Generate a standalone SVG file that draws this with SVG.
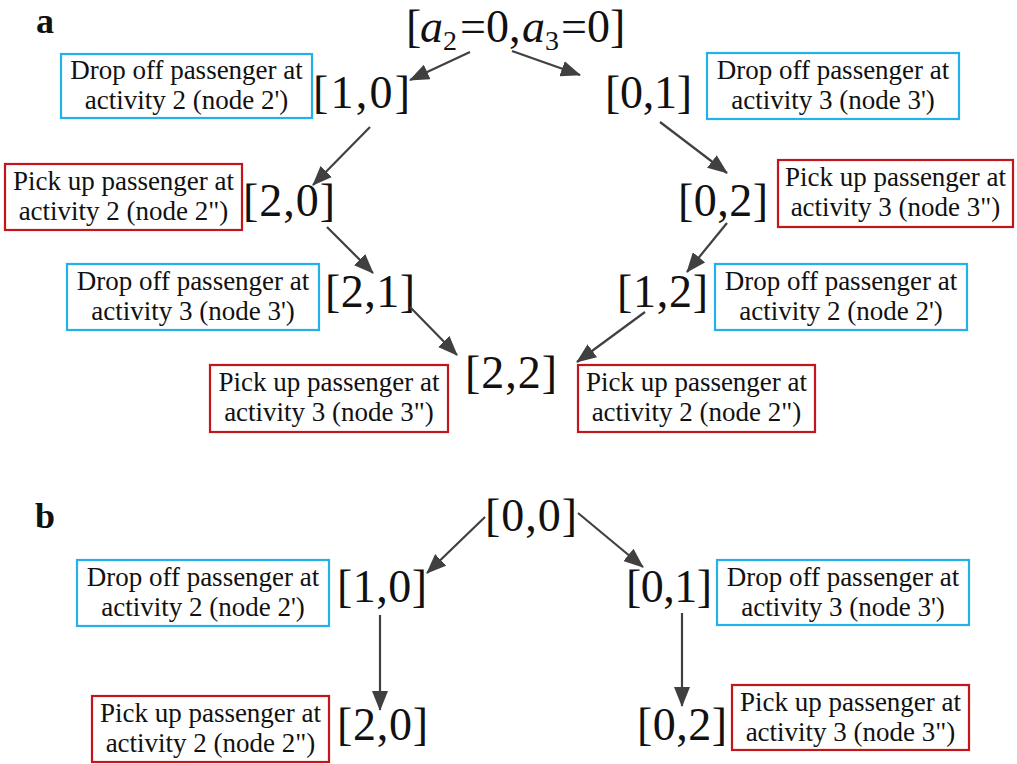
<svg xmlns="http://www.w3.org/2000/svg" width="1017" height="764" viewBox="0 0 1017 764">
<defs>
<marker id="ah" markerUnits="userSpaceOnUse" markerWidth="20" markerHeight="16" viewBox="0 0 20 16" refX="19" refY="8" orient="auto">
<path d="M0,0 L20,8 L0,16 z" fill="#404040"/>
</marker>
<style>
text{font-family:'Liberation Serif','Times New Roman','DejaVu Serif',serif}
.bx{fill:#fff;stroke-width:2.2}
.blue{stroke:#22b1ea}
.red{stroke:#c3161c}
.t{font-size:27px;fill:#111;text-anchor:middle}
.s{font-size:46px;fill:#111}
.lbl{font-size:36px;font-weight:bold;fill:#111}
.c line{stroke:#404040;stroke-width:2.2;marker-end:url(#ah)}
</style>
</defs>
<rect width="1017" height="764" fill="#fff"/>
<text class="lbl" x="36" y="33">a</text>
<text class="lbl" x="35" y="528">b</text>

<g id="n-top">
<text class="s" y="42"><tspan x="406">[</tspan><tspan x="420" font-style="italic">a</tspan><tspan x="443" y="50" font-size="28">2</tspan><tspan x="460" y="42">=0,</tspan><tspan x="522" font-style="italic">a</tspan><tspan x="545" y="50" font-size="28">3</tspan><tspan x="561" y="42">=0]</tspan></text>
</g>

<g id="n-a10"><text class="s" x="313" y="108" textLength="97" lengthAdjust="spacing">[1,0]</text>
<rect class="bx blue" x="61" y="54" width="251" height="64"/><text class="t" x="186.5" y="79">Drop off passenger at</text><text class="t" x="186.5" y="109">activity 2 (node 2')</text></g>
<g id="n-a01"><text class="s" x="605" y="108" textLength="87" lengthAdjust="spacing">[0,1]</text>
<rect class="bx blue" x="707" y="53" width="252" height="66"/><text class="t" x="833" y="79">Drop off passenger at</text><text class="t" x="833" y="109">activity 3 (node 3')</text></g>
<g id="n-a20"><text class="s" x="243" y="216" textLength="92" lengthAdjust="spacing">[2,0]</text>
<rect class="bx red" x="5" y="164" width="237" height="66"/><text class="t" x="123.5" y="190">Pick up passenger at</text><text class="t" x="123.5" y="220">activity 2 (node 2")</text></g>
<g id="n-a02"><text class="s" x="678" y="216" textLength="90" lengthAdjust="spacing">[0,2]</text>
<rect class="bx red" x="778" y="160" width="235" height="67"/><text class="t" x="895.5" y="186">Pick up passenger at</text><text class="t" x="895.5" y="216">activity 3 (node 3")</text></g>
<g id="n-a21"><text class="s" x="325" y="307" textLength="90" lengthAdjust="spacing">[2,1]</text>
<rect class="bx blue" x="67" y="264" width="252" height="66"/><text class="t" x="193" y="290">Drop off passenger at</text><text class="t" x="193" y="320">activity 3 (node 3')</text></g>
<g id="n-a12"><text class="s" x="617" y="307" textLength="91" lengthAdjust="spacing">[1,2]</text>
<rect class="bx blue" x="715" y="264" width="252" height="66"/><text class="t" x="841" y="290">Drop off passenger at</text><text class="t" x="841" y="320">activity 2 (node 2')</text></g>
<g id="n-a22"><text class="s" x="465" y="388" textLength="92" lengthAdjust="spacing">[2,2]</text>
<rect class="bx red" x="210" y="365" width="238" height="67"/><text class="t" x="329" y="391">Pick up passenger at</text><text class="t" x="329" y="421">activity 3 (node 3")</text>
<rect class="bx red" x="578" y="365" width="237" height="67"/><text class="t" x="696.5" y="391">Pick up passenger at</text><text class="t" x="696.5" y="421">activity 2 (node 2")</text></g>

<g id="n-b00"><text class="s" x="485" y="531" textLength="92" lengthAdjust="spacing">[0,0]</text></g>
<g id="n-b10"><text class="s" x="337" y="602" textLength="90" lengthAdjust="spacing">[1,0]</text>
<rect class="bx blue" x="77" y="560" width="252" height="66"/><text class="t" x="203" y="586">Drop off passenger at</text><text class="t" x="203" y="616">activity 2 (node 2')</text></g>
<g id="n-b01"><text class="s" x="626" y="602" textLength="86" lengthAdjust="spacing">[0,1]</text>
<rect class="bx blue" x="717" y="560" width="252" height="65"/><text class="t" x="843" y="586">Drop off passenger at</text><text class="t" x="843" y="616">activity 3 (node 3')</text></g>
<g id="n-b20"><text class="s" x="337" y="740" textLength="91" lengthAdjust="spacing">[2,0]</text>
<rect class="bx red" x="92" y="696" width="237" height="66"/><text class="t" x="210.5" y="722">Pick up passenger at</text><text class="t" x="210.5" y="752">activity 2 (node 2")</text></g>
<g id="n-b02"><text class="s" x="637" y="740" textLength="90" lengthAdjust="spacing">[0,2]</text>
<rect class="bx red" x="732" y="685" width="237" height="65"/><text class="t" x="850.5" y="711">Pick up passenger at</text><text class="t" x="850.5" y="741">activity 3 (node 3")</text></g>

<g id="connectors" class="c">
<line x1="470" y1="52" x2="410" y2="80"/>
<line x1="512" y1="51" x2="580" y2="75"/>
<line x1="370" y1="127" x2="313" y2="185"/>
<line x1="660" y1="122" x2="727" y2="173"/>
<line x1="327" y1="227" x2="373" y2="273"/>
<line x1="410" y1="307" x2="457" y2="355"/>
<line x1="727" y1="223" x2="687" y2="272"/>
<line x1="645" y1="312" x2="577" y2="362"/>
<line x1="485" y1="517" x2="427" y2="573"/>
<line x1="578" y1="513" x2="643" y2="567"/>
<line x1="380" y1="615" x2="380" y2="710"/>
<line x1="682" y1="613" x2="682" y2="706"/>
</g>
</svg>
